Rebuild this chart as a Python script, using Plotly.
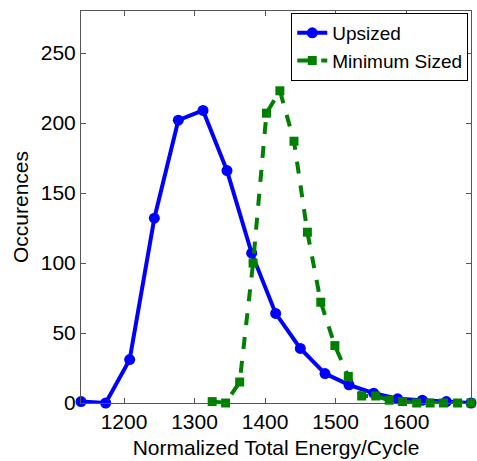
import plotly.graph_objects as go

# Upsized series
up_x = [1139, 1174, 1208, 1243, 1277, 1312, 1346, 1381, 1415, 1450, 1485, 1519, 1554, 1588, 1623, 1657, 1692]
up_y = [1, 0, 31, 132, 202, 209, 166, 107, 64, 39, 21, 13, 7, 3, 2, 1, 0]

# Minimum sized series
min_x = [1325, 1344, 1364, 1383, 1402, 1421, 1441, 1460, 1479, 1499, 1518, 1537, 1557, 1576, 1595, 1615, 1634, 1653, 1673, 1692]
min_y = [1, 0, 15, 100, 207, 223, 187, 122, 72, 41, 19, 5, 5, 2, 1, 0, 0, 0, 0, 0]

x_ticks = [1200, 1300, 1400, 1500, 1600]
y_ticks = [0, 50, 100, 150, 200, 250]

FONT = "Liberation Sans, Arial"

fig = go.Figure()
fig.add_trace(go.Scatter(
    x=up_x, y=up_y, mode="lines+markers", name="Upsized",
    line=dict(color="#0000FF", width=4),
    marker=dict(symbol="circle", size=11, color="#0000FF"),
    cliponaxis=False,
))
fig.add_trace(go.Scatter(
    x=min_x, y=min_y, mode="lines+markers", name="Minimum Sized",
    line=dict(color="#008000", width=4, dash="dash"),
    marker=dict(symbol="square", size=9, color="#008000"),
    cliponaxis=False,
))

axis_common = dict(
    showline=True, linecolor="#555555", linewidth=1, mirror="ticks",
    ticks="inside", ticklen=5, tickcolor="#555555",
    showgrid=False, zeroline=False,
    tickfont=dict(family=FONT, size=21, color="black"),
)

fig.update_layout(
    width=477, height=461,
    margin=dict(l=81, r=5, t=11, b=56),
    paper_bgcolor="white", plot_bgcolor="white",
    font=dict(family=FONT, size=21, color="black"),
    xaxis=dict(range=[1139, 1692], tickvals=x_ticks,
               title=dict(text="Normalized Total Energy/Cycle", standoff=8,
                          font=dict(size=21)), **axis_common),
    yaxis=dict(range=[0, 280], tickvals=y_ticks,
               title=dict(text="Occurences", standoff=6, font=dict(size=21)),
               **axis_common),
    legend=dict(x=0.993, y=0.995, xanchor="right", yanchor="top",
                bordercolor="black", borderwidth=1, bgcolor="white",
                font=dict(size=19), tracegroupgap=0, itemwidth=30),
    showlegend=True,
)

fig.write_html("out.html")
